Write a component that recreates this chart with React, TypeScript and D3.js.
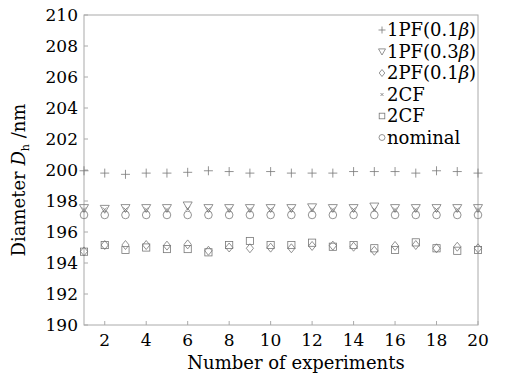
import React from "react";
import * as d3 from "d3";

const experiments = d3.range(1, 21);
const pf1_01 = [199.95, 199.8, 199.72, 199.8, 199.8, 199.85, 199.95, 199.9, 199.8, 199.9, 199.8, 199.8, 199.8, 199.9, 199.9, 199.9, 199.8, 199.95, 199.9, 199.8];
const pf1_03 = [197.55, 197.5, 197.55, 197.55, 197.55, 197.72, 197.55, 197.55, 197.55, 197.55, 197.55, 197.6, 197.55, 197.55, 197.65, 197.55, 197.55, 197.55, 197.55, 197.55];
const pf2_01 = [194.75, 195.16, 195.16, 195.16, 195.12, 195.2, 194.79, 195.0, 194.95, 194.99, 194.95, 195.1, 195.12, 195.05, 194.79, 195.1, 195.16, 194.95, 195.05, 194.95];
const cf2x = [197.45, 197.45, 197.45, 197.45, 197.45, 197.5, 197.45, 197.45, 197.45, 197.45, 197.45, 197.45, 197.45, 197.45, 197.45, 197.45, 197.45, 197.45, 197.45, 197.45];
const cf2sq = [194.73, 195.16, 194.84, 195.0, 194.9, 194.9, 194.69, 195.16, 195.42, 195.16, 195.16, 195.31, 195.05, 195.16, 194.95, 194.84, 195.33, 194.95, 194.79, 194.84];
const nominal = [197.1, 197.1, 197.1, 197.1, 197.1, 197.1, 197.1, 197.1, 197.1, 197.1, 197.1, 197.1, 197.1, 197.1, 197.1, 197.1, 197.1, 197.1, 197.1, 197.1];
const xTicks = [2, 4, 6, 8, 10, 12, 14, 16, 18, 20];
const yTicks = [190, 192, 194, 196, 198, 200, 202, 204, 206, 208, 210];

const C = "#777";
const FONT = "'DejaVu Serif', serif";

type Kind = "plus" | "tri" | "diamond" | "x" | "square" | "circle";

function Marker({ kind, x, y, s }: { kind: Kind; x: number; y: number; s: number }) {
  const p = { fill: "none", stroke: C, strokeWidth: 0.8 };
  const h = s / 2;
  switch (kind) {
    case "plus":
      return <path d={`M${x - h},${y}H${x + h}M${x},${y - h}V${y + h}`} {...p} />;
    case "x": {
      const k = h * 0.6;
      return <path d={`M${x - k},${y - k}L${x + k},${y + k}M${x - k},${y + k}L${x + k},${y - k}`} {...p} />;
    }
    case "tri":
      return <path d={`M${x - h},${y - h * 0.75}L${x + h},${y - h * 0.75}L${x},${y + h}Z`} {...p} />;
    case "diamond":
      return <path d={`M${x},${y - h}L${x + h * 0.8},${y}L${x},${y + h}L${x - h * 0.8},${y}Z`} {...p} />;
    case "square":
      return <rect x={x - h * 0.8} y={y - h * 0.8} width={h * 1.6} height={h * 1.6} {...p} />;
    case "circle":
      return <circle cx={x} cy={y} r={h * 0.85} {...p} />;
  }
}

const series: { kind: Kind; data: number[]; label: React.ReactNode }[] = [
  { kind: "plus", data: pf1_01, label: <>1PF(0.1<tspan fontStyle="italic">β</tspan>)</> },
  { kind: "tri", data: pf1_03, label: <>1PF(0.3<tspan fontStyle="italic">β</tspan>)</> },
  { kind: "diamond", data: pf2_01, label: <>2PF(0.1<tspan fontStyle="italic">β</tspan>)</> },
  { kind: "x", data: cf2x, label: <>2CF</> },
  { kind: "square", data: cf2sq, label: <>2CF</> },
  { kind: "circle", data: nominal, label: <>nominal</> },
];

export default function App() {
  const W = 507, H = 377;
  const x = d3.scaleLinear().domain([1, 20]).range([84, 478]);
  const y = d3.scaleLinear().domain([190, 210]).range([325, 15]);
  const [x0, x1] = x.range();
  const [y0, y1] = y.range();
  return (
    <svg width={W} height={H} style={{ position: "absolute", left: 0, top: 0, background: "#fff" }} fontFamily={FONT}>
      <rect x={0} y={0} width={W} height={H} fill="#fff" />
      <rect x={x0} y={y1} width={x1 - x0} height={y0 - y1} fill="none" stroke="#aaa" strokeWidth={1} />
      {yTicks.map((t) => (
        <g key={"y" + t}>
          <line x1={x0} x2={x0 + 4} y1={y(t)} y2={y(t)} stroke="#aaa" />
          <text x={x0 - 6} y={y(t)} dy="0.35em" textAnchor="end" fontSize={17} fill="#000">{t}</text>
        </g>
      ))}
      {xTicks.map((t) => (
        <g key={"x" + t}>
          <line x1={x(t)} x2={x(t)} y1={y0} y2={y0 - 4} stroke="#aaa" />
          <text x={x(t)} y={y0 + 21} textAnchor="middle" fontSize={17} fill="#000">{t}</text>
        </g>
      ))}
      <text x={(x0 + x1) / 2 + 15} y={369} textAnchor="middle" fontSize={18} fill="#000">Number of experiments</text>
      <text transform={`translate(25,${(y0 + y1) / 2 + 10}) rotate(-90)`} textAnchor="middle" fontSize={18} fill="#000">
        Diameter <tspan fontStyle="italic">D</tspan><tspan fontSize={11} dy={4}>h</tspan><tspan dy={-4}> /nm</tspan>
      </text>
      {series.map((s) =>
        s.data.map((v, i) => <Marker key={s.kind + i} kind={s.kind} x={x(experiments[i])} y={y(v)} s={s.kind === "x" ? 7 : 9} />)
      )}
      {series.map((s, i) => (
        <g key={"l" + i}>
          <Marker kind={s.kind} x={382} y={30 + i * 21.5} s={s.kind === "x" ? 5 : 7} />
          <text x={387} y={30 + i * 21.5} dy="0.35em" fontSize={18} fill="#000">{s.label}</text>
        </g>
      ))}
    </svg>
  );
}
